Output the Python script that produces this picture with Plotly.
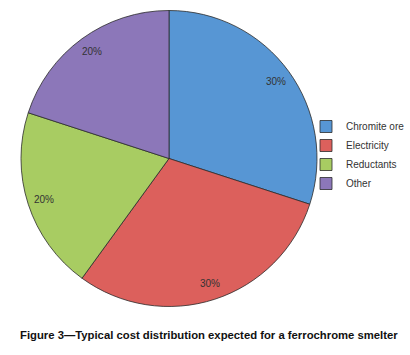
import math
import plotly.graph_objects as go

categories = ["Chromite ore", "Electricity", "Reductants", "Other"]
shares = [30, 30, 20, 20]
colors = ["#5796d4", "#dc605c", "#a8cc62", "#8c77b9"]
caption = "Figure 3\u2014Typical cost distribution expected for a ferrochrome smelter"

W, H = 410, 355
# pie placement (pixels)
PX0, PX1, PY0, PY1 = 21, 317, 10, 307
CX, CY = (PX0 + PX1) / 2, (PY0 + PY1) / 2
R = min(PX1 - PX0, PY1 - PY0) / 2
LABEL_FRAC = 0.89

fig = go.Figure(go.Pie(
    labels=categories,
    values=shares,
    sort=False,
    direction="clockwise",
    rotation=0,
    marker=dict(colors=colors, line=dict(color="#2b2b2b", width=0.8)),
    textinfo="none",
    domain=dict(x=[PX0 / W, PX1 / W], y=[1 - PY1 / H, 1 - PY0 / H]),
    hoverinfo="label+percent",
))

# percent labels near the rim, at each slice's mid-angle
total = sum(shares)
annotations = []
cum = 0
for v in shares:
    mid = (cum + v / 2) / total * 2 * math.pi
    cum += v
    px = CX + LABEL_FRAC * R * math.sin(mid)
    py = CY - LABEL_FRAC * R * math.cos(mid)
    annotations.append(dict(
        text=f"{round(v / total * 100)}%",
        x=px / W, y=1 - py / H, xref="paper", yref="paper",
        xanchor="center", yanchor="middle", showarrow=False,
        font=dict(family="Liberation Sans, Arial, sans-serif", size=10, color="#333333"),
    ))

annotations.append(dict(
    text="<b>" + caption + "</b>",
    x=209 / W, y=1 - 335 / H, xref="paper", yref="paper",
    xanchor="center", yanchor="middle", showarrow=False,
    font=dict(family="Liberation Sans, Arial, sans-serif", size=11.3, color="#111111"),
))

fig.update_layout(
    width=W, height=H,
    margin=dict(l=0, r=0, t=0, b=0, autoexpand=False),
    paper_bgcolor="white",
    plot_bgcolor="white",
    font=dict(family="Liberation Sans, Arial, sans-serif", color="#333333"),
    showlegend=True,
    legend=dict(
        x=306 / W, y=1 - 112 / H, xanchor="left", yanchor="top",
        font=dict(size=10, color="#333333"),
        itemwidth=30, tracegroupgap=0,
        bgcolor="rgba(0,0,0,0)",
    ),
    annotations=annotations,
)

fig.write_html(
    "out.html",
    config={"displayModeBar": False},
    post_script="document.body.style.margin='0';document.body.style.overflow='hidden';",
)
